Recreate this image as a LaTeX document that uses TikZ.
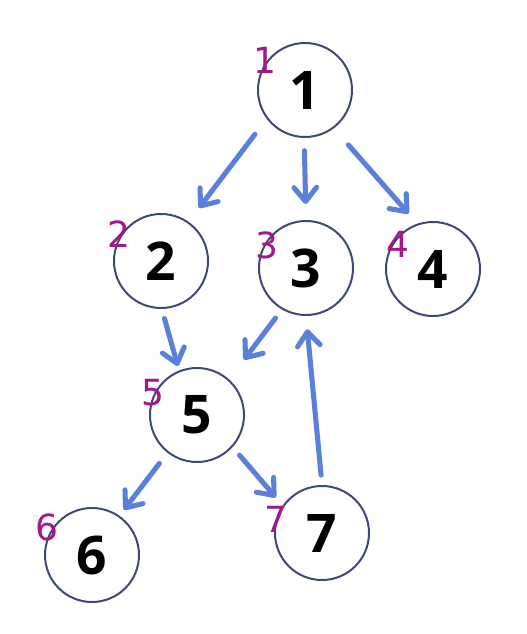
\documentclass[tikz,border=0pt]{standalone}
\usepackage{fontspec}
\setmainfont{Open Sans}
\newfontfamily\handfont{DejaVu Sans}
\usetikzlibrary{arrows.meta}
\definecolor{TreeRing}{HTML}{3E4A72}
\definecolor{TreeArrow}{HTML}{5B80DC}
\definecolor{TreeMark}{HTML}{A3168C}

\tikzset{
  vertex/.style={circle,draw=TreeRing,line width=1.5pt,minimum size=70.5pt,inner sep=0pt,
    font=\fontsize{40}{40}\selectfont\bfseries},
  edge/.style={-{Straight Barb[round,length=10.5pt,width=17pt]},TreeArrow,line width=3.8pt,line cap=round},
  handmark/.style={TreeMark,font=\handfont\fontsize{27}{27}\selectfont}
}

\begin{document}
\begin{tikzpicture}[x=0.75pt,y=-0.75pt]
  \useasboundingbox (0,0) rectangle (526,634);
  \node[vertex] (n1) at (305,90) {1};
  \node[vertex] (n2) at (161,261) {2};
  \node[vertex] (n3) at (306,268) {3};
  \node[vertex] (n4) at (433,269) {4};
  \node[vertex] (n5) at (197,415) {5};
  \node[vertex] (n6) at (92,555) {6};
  \node[vertex] (n7) at (322,533) {7};
  \node[handmark] (m1) at (265,60) {1};
  \node[handmark] (m2) at (119,234) {2};
  \node[handmark] (m3) at (267,245) {3};
  \node[handmark] (m4) at (398,244) {4};
  \node[handmark] (m5) at (153,393) {5};
  \node[handmark] (m6) at (47,527) {6};
  \node[handmark] (m7) at (276,519) {7};
  \draw[edge,shorten <=14.5pt,shorten >=13pt] (n1.217) -- (n2.55);
  \draw[edge,shorten <=9.5pt,shorten >=12pt] (n1.269) -- (n3.90);
  \draw[edge,shorten <=16.5pt,shorten >=10pt] (n1.307) -- (n4.109);
  \draw[edge,shorten <=7.5pt,shorten >=3.5pt] (n2.271) -- (n5.112);
  \draw[edge,shorten <=8pt,shorten >=18.5pt] (n3.240) -- (n5.48);
  \draw[edge,shorten <=10pt,shorten >=5.5pt] (n5.232) -- (n6.55);
  \draw[edge,shorten <=8pt,shorten >=8pt] (n5.318) -- (n7.145);
  \draw[edge,shorten <=7.5pt,shorten >=10pt] (n7.90) -- (n3.270);
\end{tikzpicture}
\end{document}
